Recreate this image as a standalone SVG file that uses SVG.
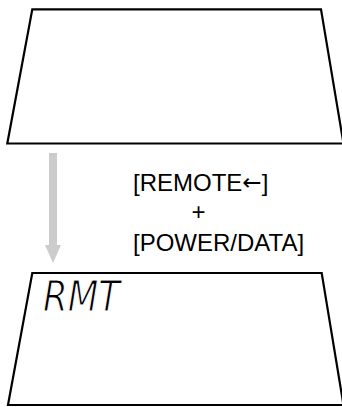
<svg xmlns="http://www.w3.org/2000/svg" width="342" height="407" viewBox="0 0 342 407">
<style>
.lcd{fill:#fff;stroke:#000;stroke-width:2.2;stroke-linejoin:miter}
.lbl{font-family:"Liberation Sans",Arial,sans-serif;font-size:24px;fill:#000}
.arr{font-family:"DejaVu Sans",sans-serif;font-size:23px}
.seg{font-family:"DejaVu Sans","Liberation Sans",sans-serif;font-style:italic;font-size:42px;fill:#000;stroke:#fff;stroke-width:1.2}
</style>
<rect width="342" height="407" fill="#fff"/>
<g id="display-before">
<polygon class="lcd" points="32.3,9.3 321,9.3 343.5,143.5 7.3,143.5"/>
</g>
<g id="connectors">
<polygon fill="#cccccc" points="49,153 57,153 57,245 61,245 53,263 45,245 49,245"/>
</g>
<g id="label">
<text class="lbl" x="133" y="191">[REMOTE<tspan class="arr" dy="-1">←</tspan><tspan dy="1">]</tspan></text>
<text class="lbl" x="191.5" y="220">+</text>
<text class="lbl" x="133" y="251">[POWER/DATA]</text>
</g>
<g id="display-after">
<polygon class="lcd" points="32.3,273 321.7,273 343.5,405 8,405"/>
<text class="seg" x="43" y="311" textLength="77" lengthAdjust="spacingAndGlyphs">RMT</text>
</g>
</svg>
